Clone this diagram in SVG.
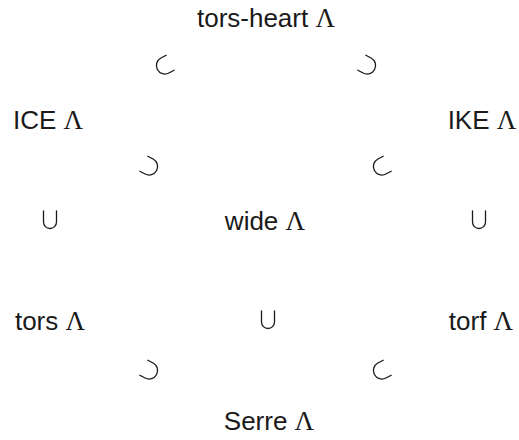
<svg xmlns="http://www.w3.org/2000/svg" width="519" height="440" viewBox="0 0 519 440">
  <style>
    .lbl { font-family: "Liberation Sans", Arial, sans-serif; font-size: 26px; fill: #1a1a1a; text-anchor: middle; }
    .lam { font-family: "Liberation Serif", "DejaVu Serif", serif; font-size: 27px; }
    .inc { fill: none; stroke: #1a1a1a; stroke-width: 1.3; stroke-linecap: round; }
  </style>
  <defs>
    <!-- subset sign, opening toward +x, centred on the origin -->
    <path id="sub" class="inc" d="M 7 -8.5 H 1 A 8.5 8.5 0 0 0 1 8.5 H 7"/>
    <!-- superset sign, opening toward -x -->
    <path id="sup" class="inc" d="M -7 -8.5 H -1 A 8.5 8.5 0 0 1 -1 8.5 H -7"/>
    <!-- union-shaped inclusion, opening upward -->
    <path id="cup" class="inc" d="M -6.5 -9 V 2 A 6.5 6.5 0 0 0 6.5 2 V -9"/>
  </defs>

  <g id="connectors">
    <use href="#sub" transform="translate(164 66) rotate(-28)"/>
    <use href="#sup" transform="translate(368 66) rotate(28)"/>
    <use href="#sup" transform="translate(150 167) rotate(28)"/>
    <use href="#sub" transform="translate(381 167) rotate(-28)"/>
    <use href="#cup" transform="translate(50 220)"/>
    <use href="#cup" transform="translate(479 220)"/>
    <use href="#cup" transform="translate(268 320)"/>
    <use href="#sup" transform="translate(150 371) rotate(28)"/>
    <use href="#sub" transform="translate(381 371) rotate(-28)"/>
  </g>

  <g id="tors-heart"><text class="lbl" x="266" y="27">tors-heart <tspan class="lam">Λ</tspan></text></g>
  <g id="ICE"><text class="lbl" x="48" y="129">ICE <tspan class="lam">Λ</tspan></text></g>
  <g id="IKE"><text class="lbl" x="482" y="129">IKE <tspan class="lam">Λ</tspan></text></g>
  <g id="wide"><text class="lbl" x="265" y="230">wide <tspan class="lam">Λ</tspan></text></g>
  <g id="tors"><text class="lbl" x="50" y="330">tors <tspan class="lam">Λ</tspan></text></g>
  <g id="torf"><text class="lbl" x="481" y="330">torf <tspan class="lam">Λ</tspan></text></g>
  <g id="Serre"><text class="lbl" x="269" y="430">Serre <tspan class="lam">Λ</tspan></text></g>
</svg>
